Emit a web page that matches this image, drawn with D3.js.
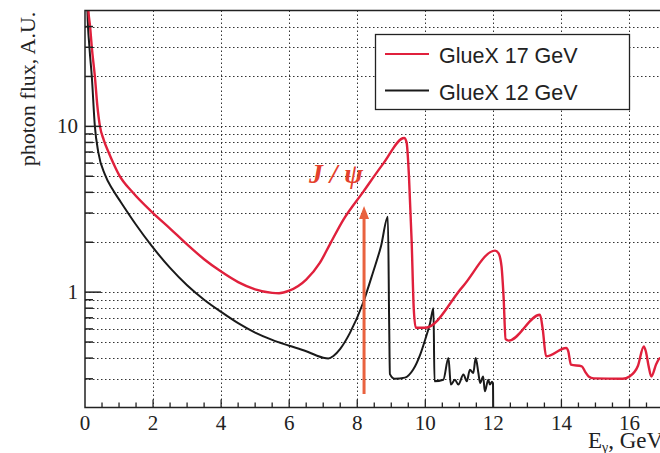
<!DOCTYPE html>
<html>
<head>
<meta charset="utf-8">
<script src="https://cdn.jsdelivr.net/npm/d3@7"></script>
<style>
  body { margin: 0; background: #fff; }
  svg { display: block; }
</style>
</head>
<body>
<script>
// ---- data (E in GeV, flux in A.U.) ----
var seriesNames = ["GlueX 17 GeV", "GlueX 12 GeV"];
var seriesColors = ["#e0203c", "#1a1a1a"];

var e17 = [0.08, 0.10, 0.15, 0.20, 0.29, 0.36, 0.44, 0.55, 0.69, 0.84, 1.0, 1.4, 1.96, 2.5, 3.0, 3.5, 4.0, 4.5, 5.0, 5.5, 5.7, 6.0, 6.5, 6.9,
  7.2, 7.59, 8.18, 8.77, 9.38, 9.45, 9.52, 9.6, 9.66, 9.72, 10.0, 11.1, 12.05, 12.15, 12.24, 12.3, 12.36, 12.45,
  13.37, 13.45, 13.55, 14.14, 14.2, 14.28, 14.6, 14.7, 14.8, 14.95, 15.8, 16.0, 16.25, 16.42, 16.48, 16.56,
  16.64, 16.79, 16.9, 17.0];
var flux17 = [60, 50, 40, 30, 20, 13.5, 10, 8.3, 7, 5.95, 5.1, 4.0, 3.05, 2.42, 1.94, 1.58, 1.33, 1.15, 1.04, 0.99, 0.985, 1.02, 1.19, 1.5,
  1.95, 2.73, 4.04, 5.98, 8.5, 8.0, 5.0, 2.0, 0.8, 0.61, 0.61, 1.08, 1.78, 1.72, 1.43, 0.94, 0.52, 0.51,
  0.73, 0.6, 0.41, 0.46, 0.44, 0.365, 0.357, 0.33, 0.31, 0.302, 0.30, 0.31, 0.36, 0.47, 0.44, 0.36,
  0.31, 0.37, 0.40, 0.38];

var e12 = [0.06, 0.07, 0.13, 0.20, 0.29, 0.39, 0.59, 0.8, 1.05, 1.5, 1.96, 2.5, 3.0, 3.5, 4.0, 4.5, 5.0, 5.5, 6.0, 6.5, 6.8,
  7.0, 7.15, 7.3, 7.5, 7.79, 8.17, 8.46, 8.7, 8.9, 8.94, 8.96, 9.1, 9.4, 9.64, 9.85, 10.0, 10.14, 10.24, 10.27,
  10.53, 10.68, 10.75, 10.87, 10.97, 11.12, 11.22, 11.31, 11.41, 11.48, 11.56, 11.61, 11.70, 11.75, 11.85,
  11.90, 11.96, 11.99, 12.0];
var flux12 = [60, 50, 30, 20, 10, 7, 5.1, 4.2, 3.5, 2.55, 1.9, 1.4, 1.1, 0.9, 0.76, 0.65, 0.57, 0.515, 0.475, 0.44, 0.415,
  0.402, 0.398, 0.412, 0.455, 0.57, 0.86, 1.31, 1.9, 2.85, 0.6, 0.32, 0.30, 0.305, 0.34, 0.42, 0.52, 0.65, 0.80, 0.29,
  0.296, 0.40, 0.277, 0.296, 0.277, 0.318, 0.29, 0.34, 0.325, 0.40, 0.325, 0.283, 0.31, 0.252, 0.296,
  0.277, 0.288, 0.28, 0.15];

var xTickLabels = [0, 2, 4, 6, 8, 10, 12, 14, 16];
var yTickLabels = [1, 10];
var yGridValues = [0.3, 0.4, 0.5, 0.6, 0.7, 0.8, 0.9, 1, 2, 3, 4, 5, 6, 7, 8, 9, 10, 20, 30, 40];
var jpsiThreshold = 8.2;

// ---- stage ----
var width = 660;
var height = 453;
var plotLeft = 85, plotTop = 10.5, plotBottom = 407.5;

var x = d3.scaleLinear().domain([0, 18]).range([plotLeft, plotLeft + 18 * 34.03]);
var y = d3.scaleLog().domain([0.2, 50]).range([408, plotTop]);

var svg = d3.select("body").append("svg")
  .attr("width", width)
  .attr("height", height);

svg.append("rect").attr("width", width).attr("height", height).attr("fill", "#fff");

svg.append("clipPath").attr("id", "plot")
  .append("rect")
  .attr("x", plotLeft).attr("y", plotTop)
  .attr("width", x(18) - plotLeft).attr("height", plotBottom - plotTop);

// ---- grid (dotted) ----
var grid = svg.append("g")
  .attr("stroke", "#333")
  .attr("stroke-width", 1)
  .attr("stroke-dasharray", "1.5,2.5");

grid.selectAll("line.gx")
  .data([2, 4, 6, 8, 10, 12, 14, 16, 18])
  .enter().append("line")
  .attr("x1", d => Math.round(x(d)) + 0.5).attr("x2", d => Math.round(x(d)) + 0.5)
  .attr("y1", plotTop).attr("y2", plotBottom);

grid.selectAll("line.gy")
  .data(yGridValues)
  .enter().append("line")
  .attr("x1", plotLeft).attr("x2", width)
  .attr("y1", d => Math.round(y(d)) + 0.5).attr("y2", d => Math.round(y(d)) + 0.5);

// ---- curves ----
var line = d3.line()
  .x(d => x(d[0]))
  .y(d => y(d[1]))
  .curve(d3.curveMonotoneX);

var curves = svg.append("g").attr("clip-path", "url(#plot)").attr("fill", "none");

curves.append("path")
  .datum(d3.zip(e12, flux12))
  .attr("d", line)
  .attr("stroke", seriesColors[1])
  .attr("stroke-width", 2);

curves.append("path")
  .datum(d3.zip(e17, flux17))
  .attr("d", line)
  .attr("stroke", seriesColors[0])
  .attr("stroke-width", 2.4);

// ---- J/psi arrow ----
var arrowColor = "#e9623f";
var ax = x(jpsiThreshold);
svg.append("line")
  .attr("x1", ax).attr("x2", ax)
  .attr("y1", 394).attr("y2", 216)
  .attr("stroke", arrowColor)
  .attr("stroke-width", 3);
svg.append("path")
  .attr("d", "M" + ax + ",206 L" + (ax - 5) + ",219 L" + (ax + 5) + ",219 Z")
  .attr("fill", arrowColor);

svg.append("text")
  .attr("x", 309).attr("y", 183)
  .attr("font-family", "Liberation Serif, serif")
  .attr("font-style", "italic")
  .attr("font-weight", "bold")
  .attr("font-size", 28)
  .attr("textLength", 54)
  .attr("lengthAdjust", "spacing")
  .attr("fill", "#e4402c")
  .text("J/ψ");

// ---- frame and ticks ----
var frame = svg.append("g").attr("stroke", "#222").attr("stroke-width", 1.5).attr("fill", "none");
frame.append("path")
  .attr("d", "M" + width + "," + plotTop + " H" + plotLeft + " V" + plotBottom + " H" + width);

svg.append("g").attr("stroke", "#222").attr("stroke-width", 1.3)
  .selectAll("line")
  .data(d3.range(1, 37).map(d => d / 2))
  .enter().append("line")
  .attr("x1", d => x(d)).attr("x2", d => x(d))
  .attr("y1", plotBottom).attr("y2", d => plotBottom - (d % 2 === 0 ? 8 : 5));

svg.append("g").attr("stroke", "#222").attr("stroke-width", 1.5)
  .selectAll("line")
  .data(yGridValues)
  .enter().append("line")
  .attr("x1", plotLeft).attr("x2", d => plotLeft + (yTickLabels.indexOf(d) >= 0 ? 16 : 8))
  .attr("y1", d => y(d)).attr("y2", d => y(d));

// tick labels
svg.append("g")
  .attr("font-family", "Liberation Serif, serif")
  .attr("font-size", 21)
  .attr("fill", "#222")
  .attr("text-anchor", "middle")
  .selectAll("text")
  .data(xTickLabels)
  .enter().append("text")
  .attr("x", d => x(d))
  .attr("y", 430)
  .text(d => d);

svg.append("g")
  .attr("font-family", "Liberation Serif, serif")
  .attr("font-size", 21)
  .attr("fill", "#222")
  .attr("text-anchor", "end")
  .selectAll("text")
  .data(yTickLabels)
  .enter().append("text")
  .attr("x", 78)
  .attr("y", d => y(d) + 7)
  .text(d => d);

// axis titles
svg.append("text")
  .attr("transform", "translate(35,89) rotate(-90)")
  .attr("text-anchor", "middle")
  .attr("font-family", "Liberation Serif, serif")
  .attr("font-size", 22)
  .attr("fill", "#222")
  .text("photon flux, A.U.");

var xt = svg.append("text")
  .attr("x", 588).attr("y", 448)
  .attr("font-family", "Liberation Serif, serif")
  .attr("font-size", 23)
  .attr("fill", "#222");
xt.append("tspan").text("E");
xt.append("tspan").attr("font-size", 14).attr("dy", 4).text("γ");
xt.append("tspan").attr("dy", -4).text(", GeV");

// ---- legend ----
var legend = svg.append("g");
legend.append("rect")
  .attr("x", 375.5).attr("y", 34.5)
  .attr("width", 254).attr("height", 75)
  .attr("fill", "#fff").attr("stroke", "#222").attr("stroke-width", 1.3);

var rows = legend.selectAll("g.row")
  .data(seriesNames)
  .enter().append("g")
  .attr("transform", (d, i) => "translate(0," + (54 + i * 36.5) + ")");

rows.append("line")
  .attr("x1", 385).attr("x2", 429)
  .attr("stroke", (d, i) => seriesColors[i])
  .attr("stroke-width", 2);

rows.append("text")
  .attr("x", 439).attr("y", 9)
  .attr("font-family", "Liberation Sans, Arial, sans-serif")
  .attr("font-size", 21.5)
  .attr("fill", "#222")
  .text(d => d);
</script>
</body>
</html>
